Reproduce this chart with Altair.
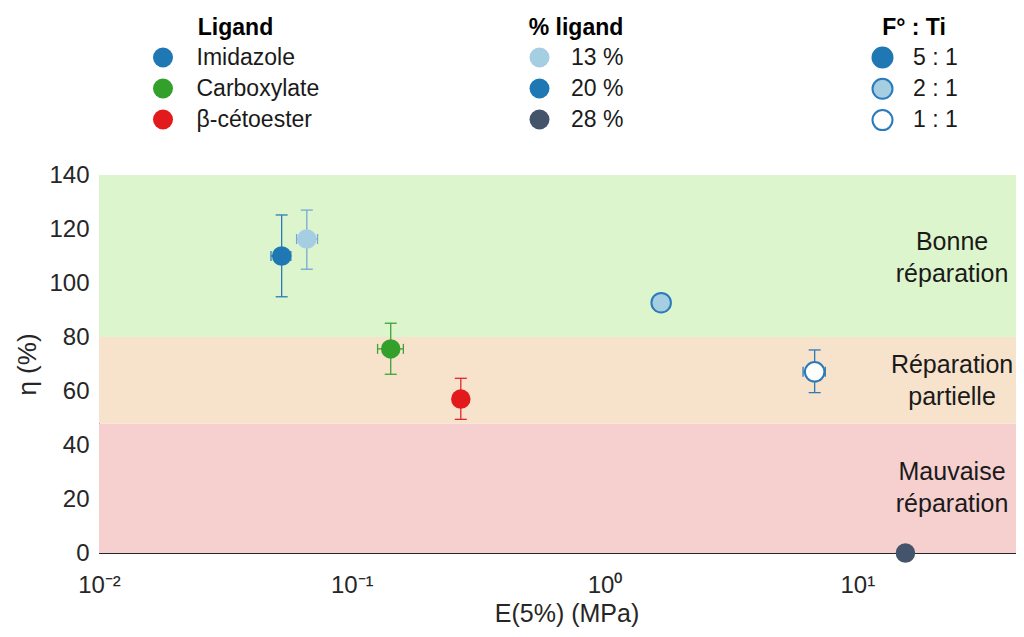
import altair as alt
import pandas as pd

FONT = "Liberation Sans"
INK = "#262626"

# ---------------- data ----------------
E_mpa   = [0.0528, 0.0664, 0.1426, 0.270, 1.675, 6.78, 15.5]
eta_pct = [110.0, 116.3, 75.6, 57.0, 92.7, 67.1, 0.0]
ligand  = ["Imidazole", None, "Carboxylate", "β-cétoester", None, None, None]
pct_lig = [None, "13 %", None, None, None, None, "28 %"]
ratio   = [None, None, None, None, "2 : 1", "1 : 1", None]
eta_lo  = [94.9, 105.1, 66.2, 49.5, None, 59.4, None]
eta_hi  = [125.2, 127.0, 85.1, 64.7, None, 75.2, None]
E_lo    = [0.0479, 0.0605, 0.1265, None, None, 6.10, None]
E_hi    = [0.0574, 0.0732, 0.160, None, None, 7.47, None]

ligand_cats = ["Imidazole", "Carboxylate", "β-cétoester"]
pct_cats    = ["13 %", "20 %", "28 %"]
ratio_cats  = ["5 : 1", "2 : 1", "1 : 1"]

band_lo   = [0, 48, 80]
band_hi   = [48, 80, 140]
band_text = ["Mauvaise\nréparation", "Réparation\npartielle", "Bonne\nréparation"]
band_text_eta = [30.0, 69.7, 115.2]
band_text_E = [23.7, 23.7, 23.7]

x_domain = [0.01, 50]
y_domain = [0, 140]
x_major = [0.01, 0.1, 1, 10]
x_major_labels = ["10⁻²", "10⁻¹", "10⁰", "10¹"]
x_minor = [0.02, 0.03, 0.04, 0.05, 0.06, 0.07, 0.08, 0.09,
           0.2, 0.3, 0.4, 0.5, 0.6, 0.7, 0.8, 0.9,
           2, 3, 4, 5, 6, 7, 8, 9, 20, 30, 40]
y_ticks = [0, 20, 40, 60, 80, 100, 120, 140]

# ---------------- tables ----------------
key = [a or b or c for a, b, c in zip(ligand, pct_lig, ratio)]
pts = pd.DataFrame({"E": E_mpa, "eta": eta_pct, "ligand": ligand, "pct": pct_lig,
                    "ratio": ratio, "key": key, "eta_lo": eta_lo, "eta_hi": eta_hi,
                    "E_lo": E_lo, "E_hi": E_hi})
bands = pd.DataFrame({"lo": band_lo, "hi": band_hi, "name": band_text,
                      "x0": [x_domain[0]] * 3, "x1": [x_domain[1]] * 3})
labels = pd.DataFrame({"E": band_text_E, "eta": band_text_eta, "name": band_text})
edge = pd.DataFrame({"E": x_domain})

# ---------------- scales / axes ----------------
x_scale = alt.Scale(type="log", domain=x_domain, nice=False)
y_scale = alt.Scale(domain=y_domain, nice=False, zero=False)

label_expr = " : ".join(
    [f"datum.value == {v} ? '{t}'" for v, t in zip(x_major, x_major_labels)]) + " : ''"

XT = "E(5%) (MPa)"
YT = "η (%)"

x_axis = alt.Axis(values=x_major, labelExpr=label_expr, labelOverlap=False,
                  labelFlush=False, labelFontSize=24, labelFont=FONT, labelColor=INK,
                  tickSize=alt.ExprRef(expr="-9"), tickColor=INK, domainColor=INK,
                  labelPadding=29, titleFontSize=25, titleFont=FONT, titleColor=INK,
                  titleFontWeight="normal", titleY=60, titleBaseline="middle", grid=False)
y_axis = alt.Axis(values=y_ticks, labelFontSize=24, labelFont=FONT, labelColor=INK,
                  tickSize=alt.ExprRef(expr="-5"), tickColor=INK, domainColor=INK,
                  labelPadding=15, titleFontSize=26, titleFont=FONT, titleColor=INK,
                  titleFontWeight="normal", titlePadding=8, grid=False)


def X(f):
    return alt.X(f, type="quantitative", scale=x_scale, axis=x_axis, title=XT)


def Y(f):
    return alt.Y(f, type="quantitative", scale=y_scale, axis=y_axis, title=YT)


err_scale = alt.Scale(domain=["Imidazole", "13 %", "Carboxylate", "β-cétoester", "1 : 1"],
                      range=["#2b7bba", "#74a8d4", "#3aa337", "#e3262a", "#2b7bba"])

leg = dict(orient="none", titleFontSize=23, labelFontSize=23, titleFont=FONT,
           labelFont=FONT, titleFontWeight="bold", titleColor="#000000",
           labelColor="#1a1a1a", symbolSize=400,
           titleAnchor="middle", titlePadding=6.5, padding=0, legendY=-158.5)

# ---------------- layers ----------------
band_layer = alt.Chart(bands).mark_rect().encode(
    x=X("x0"), x2="x1", y=Y("lo"), y2="hi",
    fill=alt.Fill("name:N", scale=alt.Scale(domain=band_text,
                  range=["#f6cfcf", "#f7e3cc", "#ddf5cc"]), legend=None))

base = alt.Chart(pts)
ecol = alt.Color("key:N", scale=err_scale, legend=None)

vrule = base.transform_filter("datum.eta_lo != null").mark_rule(strokeWidth=1.3).encode(
    x=X("E"), y=Y("eta_lo"), y2="eta_hi", color=ecol)
vcap_lo = base.transform_filter("datum.eta_lo != null").mark_tick(
    orient="horizontal", size=12, thickness=1.3, opacity=1).encode(x=X("E"), y=Y("eta_lo"), color=ecol)
vcap_hi = base.transform_filter("datum.eta_hi != null").mark_tick(
    orient="horizontal", size=12, thickness=1.3, opacity=1).encode(x=X("E"), y=Y("eta_hi"), color=ecol)
hrule = base.transform_filter("datum.E_lo != null").mark_rule(strokeWidth=1.3).encode(
    x=X("E_lo"), x2="E_hi", y=Y("eta"), color=ecol)
hcap_lo = base.transform_filter("datum.E_lo != null").mark_tick(
    orient="vertical", size=10, thickness=1.3, opacity=1).encode(x=X("E_lo"), y=Y("eta"), color=ecol)
hcap_hi = base.transform_filter("datum.E_hi != null").mark_tick(
    orient="vertical", size=10, thickness=1.3, opacity=1).encode(x=X("E_hi"), y=Y("eta"), color=ecol)

p_lig = base.transform_filter("datum.ligand != null").mark_circle(
    size=380, opacity=1, strokeWidth=0).encode(
    x=X("E"), y=Y("eta"),
    fill=alt.Fill("ligand:N", scale=alt.Scale(domain=ligand_cats,
                  range=["#1f78b4", "#33a02c", "#e31a1c"]),
                  legend=alt.Legend(title="Ligand", legendX=52.5, symbolStrokeWidth=0,
                                    rowPadding=7, labelOffset=22, **leg)))
p_pct = base.transform_filter("datum.pct != null").mark_circle(
    size=380, opacity=1, strokeWidth=0).encode(
    x=X("E"), y=Y("eta"),
    fill=alt.Fill("pct:N", scale=alt.Scale(domain=pct_cats,
                  range=["#a6cee3", "#1f78b4", "#44546a"]),
                  legend=alt.Legend(title="% ligand", legendX=429, symbolStrokeWidth=0,
                                    rowPadding=7, labelOffset=20, **leg)))
p_rat = base.transform_filter("datum.ratio != null").mark_circle(
    size=380, opacity=1, strokeWidth=2).encode(
    x=X("E"), y=Y("eta"),
    fill=alt.Fill("ratio:N", scale=alt.Scale(domain=ratio_cats,
                  range=["#1f78b4", "#a6cee3", "#ffffff"]),
                  legend=alt.Legend(title="F° : Ti", legendX=772, symbolStrokeWidth=2,
                                    symbolStrokeColor="#2b7bba", rowPadding=2.3,
                                    labelOffset=19, **leg)),
    stroke=alt.Stroke("ratio:N", scale=alt.Scale(domain=ratio_cats,
                      range=["#1f78b4", "#2b7bba", "#2b7bba"]), legend=None))

txt = alt.Chart(labels).mark_text(lineBreak="\n", fontSize=25, font=FONT, color="#1a1a1a",
                                  align="center", baseline="middle", lineHeight=32).encode(
    x=X("E"), y=Y("eta"), text="name:N")

main = alt.layer(band_layer, vrule, vcap_lo, vcap_hi, hrule, hcap_lo, hcap_hi,
                 p_lig, p_pct, p_rat, txt).resolve_scale(
    fill="independent", stroke="independent", color="independent")


def tick_layer(orient, values, size):
    ax = alt.Axis(orient=orient, values=values, labels=False, domain=False, grid=False,
                  tickSize=alt.ExprRef(expr=str(-size)), tickColor=INK, title=None)
    return alt.Chart(edge).mark_rule(opacity=0).encode(
        x=alt.X("E:Q", scale=x_scale, axis=ax))


chart = alt.layer(
    main,
    tick_layer("bottom", x_minor, 5),
    tick_layer("top", x_major, 9),
    tick_layer("top", x_minor, 5),
).resolve_axis(x="independent").properties(
    width=935, height=378,
    autosize=alt.AutoSizeParams(type="none"),
    padding={"left": 91, "top": 167, "right": -18, "bottom": 76}
).configure_view(stroke=INK, strokeWidth=1).configure(background="white")

chart.save("out.html", embed_options={"renderer": "svg", "actions": False})
